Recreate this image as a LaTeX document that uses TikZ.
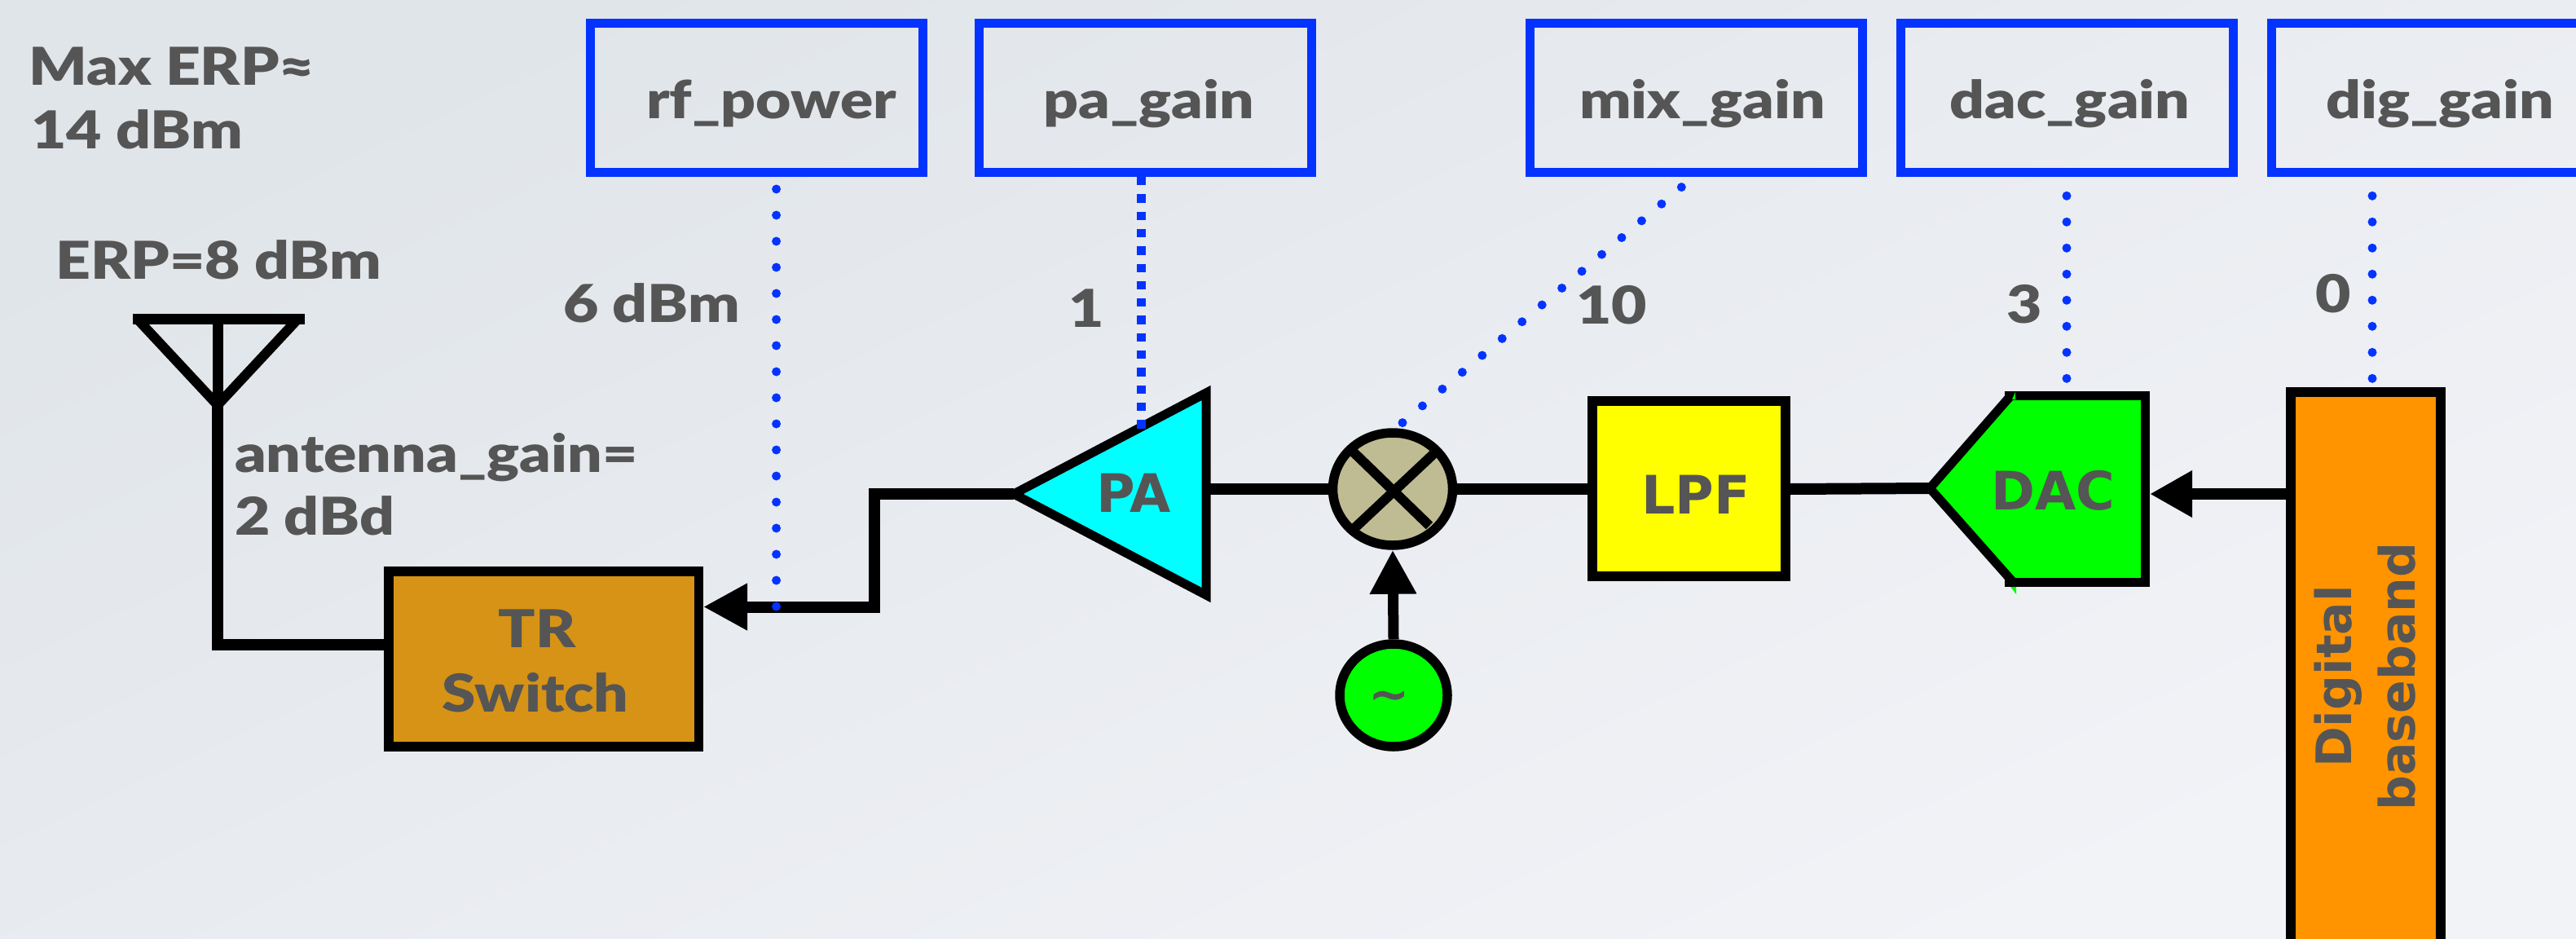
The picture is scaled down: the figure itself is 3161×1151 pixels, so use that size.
\documentclass[tikz,border=0pt]{standalone}
\usepackage{fontspec}
\setmainfont{Lato Black}[FakeStretch=1.17]
\newfontfamily\blockfont{DejaVu Sans Bold}
\usetikzlibrary{arrows.meta,shapes.geometric}
\definecolor{txt}{HTML}{555555}
\definecolor{bluebox}{HTML}{0433FF}
\definecolor{sw}{HTML}{D69316}
\definecolor{mixc}{HTML}{BFBB93}
\definecolor{bbc}{HTML}{FF9300}
\definecolor{grn}{HTML}{00FF00}
\definecolor{cyanfill}{HTML}{00FFFF}
\definecolor{yelfill}{HTML}{FFFF00}
\definecolor{bga}{HTML}{E0E5EA}
\definecolor{bgb}{HTML}{F2F3F7}
\tikzset{
 lab/.style={text=txt,font=\fontsize{64}{78}\selectfont,inner sep=0pt,anchor=base west,align=left},
 blk/.style={text=txt,font=\blockfont\fontsize{65}{78}\selectfont,inner sep=0pt,anchor=base},
 blkrot/.style={text=txt,font=\blockfont\fontsize{60}{78}\selectfont,inner sep=0pt,anchor=base,rotate=90},
 param/.style={draw=bluebox,line width=11pt,fill=none,minimum width=408pt,minimum height=183pt,inner sep=0pt},
 blockbox/.style={draw=black,line width=11.5pt,inner sep=0pt},
 round shape/.style={draw=black,line width=11.5pt,ellipse,inner sep=0pt},
 wire/.style={draw=black,line width=14pt},
 arrowwire/.style={draw=black,line width=14pt,-{Triangle[length=54pt,width=54pt]}},
 dots/.style={draw=bluebox,line width=11pt,line cap=round,dash pattern=on 0pt off 32pt},
}
\begin{document}
\begin{tikzpicture}[x=1pt,y=-1pt]
\useasboundingbox (0,0) rectangle (3161,1151);
\path[clip] (0,0) rectangle (3161,1151);
\shade[left color=bga,right color=bgb,shading angle=25] (0,0) rectangle (3161,1151);
% parameter boxes
\node[param] (rf) at (928,120) {};
\node[param] (pg) at (1405,120) {};
\node[param] (mg) at (2081,120) {};
\node[param] (dg) at (2536,120) {};
\node[param] (bg) at (2991.5,120) {};
\node[lab] (rft) at (793,145) {rf\_power};
\node[lab] (pgt) at (1280,145) {pa\_gain};
\node[lab] (mgt) at (1938,145) {mix\_gain};
\node[lab] (dgt) at (2392,145) {dac\_gain};
\node[lab] (bgt) at (2854,145) {dig\_gain};
% labels
\node[lab] (maxerp) at (35,104) {Max ERP≈};
\node[lab] (maxval) at (38,182) {14 dBm};
\node[lab] (erp) at (68,342) {ERP=8 dBm};
\node[lab] (pwr) at (691,395) {6 dBm};
\node[lab] (ag) at (288,579) {antenna\_gain=};
\node[lab] (agv) at (288,656) {2 dBd};
\node[lab] (v1) at (1311,401) {1};
\node[lab] (v2) at (1934,397) {10};
\node[lab] (v3) at (2462,396) {3};
\node[lab] (v4) at (2841,383) {0};
% blocks
\node[blockbox,fill=sw,minimum width=380.5pt,minimum height=215pt] (tr) at (667,808.5) {};
\node[lab,anchor=base] (trt) at (659,794) {TR};
\node[lab,anchor=base] (trs) at (657,873) {Switch};
\node[blockbox,fill=yelfill,minimum width=237pt,minimum height=215pt] (lpf) at (2072.5,599.5) {};
\node[blk] (lpft) at (2081,630) {LPF};
\node[round shape,fill=mixc,minimum width=147pt,minimum height=138pt] (mix) at (1709,600) {};
\node[round shape,fill=grn,minimum width=132pt,minimum height=126pt] (osc) at (1710,853) {};
\node[text=txt,font=\blockfont\fontsize{60}{70}\selectfont,inner sep=0pt] (osct) at (1705,860) {\char`\~};
% PA
\coordinate (patip) at (1244,606);
\coordinate (paback) at (1480,600);
\draw[black,line width=11pt,fill=cyanfill,miter limit=10] (patip) -- (1480,482) -- (1480,730) -- cycle;
\node[blk] (pat) at (1391,628) {PA};
% DAC
\coordinate (dactip) at (2368,599);
\coordinate (dacback) at (2633,606);
\fill[grn] (2375,599) -- (2473,481) -- (2633,481) -- (2633,714) -- (2473,714) -- cycle;
\fill[grn] (2448,695) -- (2474,729) -- (2474,712) -- cycle;
\draw[black,line width=11pt] (2460,485) -- (2632.5,485) -- (2632.5,714.5) -- (2460,714.5);
\draw[black,line width=11pt,line cap=round] (2466,487) -- (dactip) -- (2470,714);
\fill[grn] (2473,481) -- (2473,490) -- (2469,490) -- cycle;
\node[blk] (dact) at (2519,625) {DAC};
% baseband
\node[blockbox,fill=bbc,minimum width=184pt,minimum height=700pt,anchor=north] (bb) at (2903,475) {};
\node[blkrot] (bb1) at (2885,830) {Digital};
\node[blkrot] (bb2) at (2963,830) {baseband};
% antenna
\coordinate (anta) at (163,391.5);
\coordinate (antb) at (374,391.5);
\coordinate (antc) at (267,391.5);
\coordinate (antd) at (267,497);
\draw[black,line width=13pt] (anta) -- (antb);
\draw[black,line width=12pt] (170,393) -- (antd) -- (364,393);
\draw[black,line width=13pt] (antc) -- (antd);
\draw[wire] (antd) -- (267,791) -- (tr.west |- 0,791);
% connectors
\draw[wire] (paback) -- (mix.west |- 0,600);
\draw[wire] (mix.east |- 0,600) -- (lpf.west |- 0,600);
\draw[wire] (lpf.east |- 0,600) -- (dactip);
\draw[wire] (patip) -- (1073,606) -- (1073,744.5) -- (917,744.5);
\draw[arrowwire] (950,744.5) -- (tr.east |- 0,744.5);
\draw[arrowwire,line width=13pt] (osc.north) -- (mix.south);
\draw[draw=black,line width=14pt,-{Triangle[length=52pt,width=54pt]}] (bb.west |- 0,606) -- (2638,606);
% mixer X
\draw[black,line width=12pt] (1658,552) -- (1754,645);
\draw[black,line width=12pt] (1759,557) -- (1661,649);
% dots
\draw[dots] (952.6,232) -- (952.6,746);
\draw[bluebox,line width=11pt,dash pattern=on 10.3pt off 11pt] (pg.south -| 1400,0) -- (1400,526);
\draw[dots] (1721,518.6) -- (2064,229);
\draw[dots] (2536,464.3) -- (2536,240);
\draw[dots] (2911,464.3) -- (2911,240);
\end{tikzpicture}
\end{document}
